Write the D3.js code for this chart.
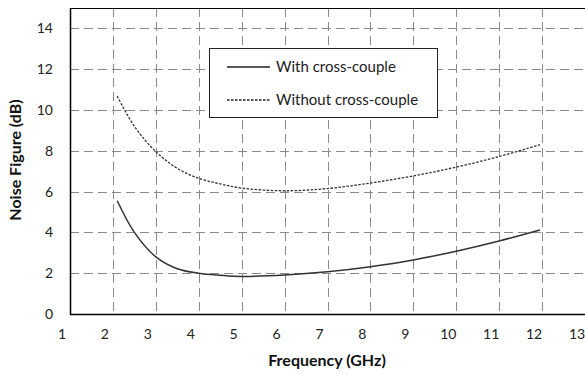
<!DOCTYPE html>
<html>
<head>
<meta charset="utf-8">
<script src="https://cdn.jsdelivr.net/npm/d3@7/dist/d3.min.js"></script>
<style>
  html, body { margin: 0; padding: 0; background: #fff; }
  svg { display: block; font-family: Lato, "Open Sans", sans-serif; }
</style>
</head>
<body>
<svg id="chart" width="585" height="374"></svg>
<script>
// Frequency sweep (GHz) and noise figure (dB) for the two LNA variants
const freq = [2.1, 2.5, 3, 3.5, 4, 4.5, 5, 6, 7, 8, 9, 10, 11, 11.95];
const nfWith = [5.55, 4.0, 2.8, 2.22, 2.0, 1.9, 1.84, 1.91, 2.07, 2.32, 2.65, 3.08, 3.58, 4.12];
const nfWithout = [10.68, 9.2, 7.96, 7.14, 6.65, 6.38, 6.17, 6.04, 6.15, 6.42, 6.77, 7.2, 7.72, 8.3];
const xTicks = [1, 2, 3, 4, 5, 6, 7, 8, 9, 10, 11, 12, 13];
const yTicks = [0, 2, 4, 6, 8, 10, 12, 14];
const seriesNames = ["With cross-couple", "Without cross-couple"];

const svg = d3.select("#chart");
const plotL = 70, plotR = 585, plotT = 8, plotB = 314;

const x = d3.scaleLinear().domain([1, 13]).range([plotL, plotR]);
const y = d3.scaleLinear().domain([0, 15]).range([plotB, plotT]);

// Dashed grid
const grid = svg.append("g").attr("stroke", "#8a8a8a").attr("stroke-width", 1)
  .attr("stroke-dasharray", "9,5");
grid.selectAll("line.h").data(yTicks.filter(d => d > 0)).join("line")
  .attr("x1", plotL).attr("x2", plotR)
  .attr("y1", d => Math.round(y(d)) + 0.5).attr("y2", d => Math.round(y(d)) + 0.5);
grid.selectAll("line.v").data(xTicks.filter(d => d > 1)).join("line")
  .attr("y1", plotT).attr("y2", plotB)
  .attr("x1", d => Math.round(x(d)) + 0.5).attr("x2", d => Math.round(x(d)) + 0.5);

// Plot frame
svg.append("line").attr("x1", plotL + 0.5).attr("x2", plotL + 0.5).attr("y1", plotT).attr("y2", plotB + 0.5)
  .attr("stroke", "#000").attr("stroke-width", 1.5);
svg.append("line").attr("x1", plotL).attr("x2", plotR).attr("y1", plotB + 0.5).attr("y2", plotB + 0.5)
  .attr("stroke", "#000").attr("stroke-width", 1.5);
svg.append("line").attr("x1", plotL).attr("x2", plotR).attr("y1", plotT + 0.5).attr("y2", plotT + 0.5)
  .attr("stroke", "#000").attr("stroke-width", 1.2);

// Axes (labels only); frequency labels sit a little left of their grid lines
const xAxis = svg.append("g").attr("transform", `translate(-8.5,${plotB})`)
  .call(d3.axisBottom(x).tickValues(xTicks).tickSize(0).tickPadding(15).tickFormat(d3.format("d")));
const yAxis = svg.append("g").attr("transform", `translate(${plotL},0)`)
  .call(d3.axisLeft(y).tickValues(yTicks).tickSize(0).tickPadding(17).tickFormat(d3.format("d")));
[xAxis, yAxis].forEach(g => {
  g.select(".domain").remove();
  g.selectAll("text").attr("font-size", 14).attr("fill", "#222")
    .attr("font-family", "Lato, sans-serif");
});

// Curves
const line = d3.line().x(d => x(d[0])).y(d => y(d[1])).curve(d3.curveCatmullRom.alpha(0.5));
svg.append("path").datum(freq.map((f, i) => [f, nfWith[i]]))
  .attr("d", line).attr("fill", "none").attr("stroke", "#333").attr("stroke-width", 1.5);
svg.append("path").datum(freq.map((f, i) => [f, nfWithout[i]]))
  .attr("d", line).attr("fill", "none").attr("stroke", "#333").attr("stroke-width", 1.3)
  .attr("stroke-dasharray", "2.5,1.5");

// Axis titles
svg.append("text").attr("x", 327).attr("y", 366).attr("text-anchor", "middle")
  .attr("font-size", 16).attr("font-weight", "bold").attr("fill", "#111")
  .text("Frequency (GHz)");
svg.append("text").attr("transform", "translate(21,160) rotate(-90)").attr("text-anchor", "middle")
  .attr("font-size", 16).attr("font-weight", "bold").attr("fill", "#111")
  .text("Noise Figure (dB)");

// Legend
const lg = svg.append("g");
lg.append("rect").attr("x", 209.5).attr("y", 48.5).attr("width", 228).attr("height", 69)
  .attr("fill", "#fff").attr("stroke", "#222").attr("stroke-width", 1);
const rows = [{ name: seriesNames[0], dash: null, w: 1.5, yy: 67 },
              { name: seriesNames[1], dash: "2.5,1.5", w: 1.3, yy: 100 }];
rows.forEach(r => {
  lg.append("line").attr("x1", 227).attr("x2", 270).attr("y1", r.yy).attr("y2", r.yy)
    .attr("stroke", "#222").attr("stroke-width", r.w).attr("stroke-dasharray", r.dash);
  lg.append("text").attr("x", 276).attr("y", r.yy).attr("dy", "0.35em")
    .attr("font-size", 15).attr("fill", "#222").text(r.name);
});
</script>
</body>
</html>
